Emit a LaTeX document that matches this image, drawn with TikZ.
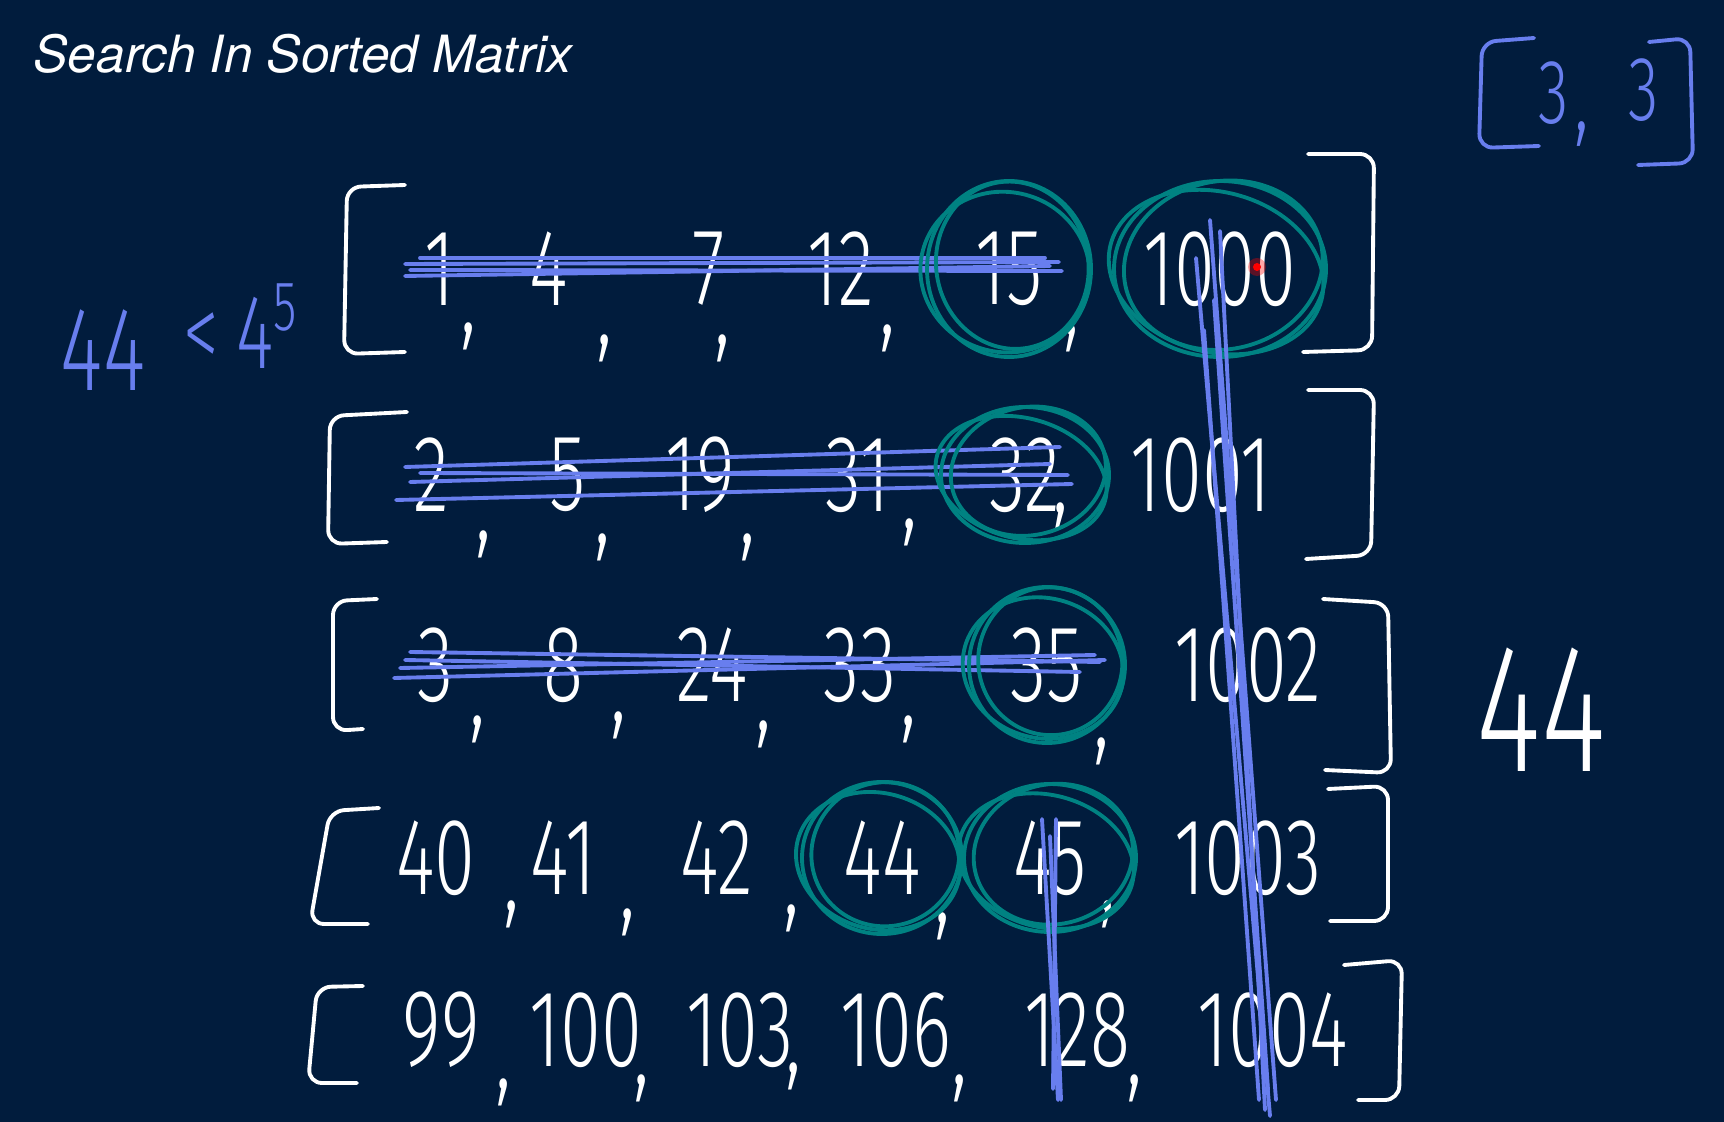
\documentclass[tikz,border=0pt]{standalone}
\usepackage{fontspec}
\usepackage{xcolor}
\usepackage{tikz}
\usetikzlibrary{calc}
\newfontfamily\handfont[FakeStretch=0.68]{Fira Sans Light}
\newfontfamily\titlefont{TeX Gyre Heros}
\definecolor{board}{RGB}{1,28,61}
\definecolor{ink}{RGB}{104,126,238}
\definecolor{loop}{RGB}{0,130,130}
\tikzset{
  num/.style={text=white, inner sep=0pt,
              font=\handfont\fontsize{31}{31}\selectfont},
  sep/.style={text=white, inner sep=0pt,
              font=\handfont\fontsize{33}{33}\selectfont},
  note/.style={text=ink, inner sep=0pt,
               font=\handfont\fontsize{33}{33}\selectfont},
  brk/.style={draw=white, line width=1.1pt, line cap=round,
              line join=round, rounded corners=4pt},
  strike/.style={draw=ink, line width=1.1pt, line cap=round},
  ring/.style={draw=loop, line width=1.1pt},
}
\begin{document}
\begin{tikzpicture}[x=0.01cm, y=-0.01cm]
  \useasboundingbox (0,0) rectangle (1724,1122);
  \fill[board] (0,0) rectangle (1724,1122);
  \node[anchor=base west, inner sep=0pt, text=white,
        font=\titlefont\itshape\fontsize{14.6}{17}\selectfont]
    (title) at (33,73) {Search In Sorted Matrix};
  % rows of the matrix
  \foreach \t/\x/\n in {1/440/a1, 4/549/a2, 7/709/a3, 12/841/a4, 15/1009/a5, 1000/1220/a6}
    \node[num] (\n) at (\x,269) {\t};
  \foreach \t/\x/\n in {2/431/b1, 5/568/b2, 19/700/b3, 31/858/b4, 32/1025/b5, 1001/1201/b6}
    \node[num] (\n) at (\x,475) {\t};
  \foreach \t/\x/\n in {3/436/c1, 8/563/c2, 24/712/c3, 33/860/c4, 35/1047/c5, 1002/1248/c6}
    \node[num] (\n) at (\x,665) {\t};
  \foreach \t/\x/\n in {40/436/d1, 41/563/d2, 42/717/d3, 44/882/d4, 45/1050/d5, 1003/1248/d6}
    \node[num] (\n) at (\x,858) {\t};
  \foreach \t/\x/\n in {99/441/e1, 100/586/e2, 103/740/e3, 106/896/e4, 128/1077/e5, 1004/1273/e6}
    \node[num] (\n) at (\x,1030) {\t};
  % commas
  \foreach \x/\y [count=\i] in {469/336, 605/348, 723/348, 888/338, 1072/338,
                                484/544, 603/547, 748/547, 910/532, 1061/516,
                                478/729, 619/725, 764/734, 909/729, 1102/751,
                                512/914, 628/922, 792/918, 943/926, 1108/914,
                                504/1092, 642/1088, 794/1076, 960/1088, 1135/1088}
    \node[sep] (k\i) at (\x,\y) {,};
  % brackets
  \draw[brk] (405,185) -- (347,187) -- (344,354) -- (405,352);
  \draw[brk] (1308,154) -- (1374,154) -- (1372,350) -- (1303,352);
  \draw[brk] (407,412) -- (330,416) -- (328,544) -- (387,542);
  \draw[brk] (1308,390) -- (1374,390) -- (1371,555) -- (1306,559);
  \draw[brk] (377,599) -- (333,601) -- (333,731) -- (363,729);
  \draw[brk] (1323,599) -- (1388,603) -- (1391,773) -- (1325,770);
  \draw[brk] (379,808) -- (330,811) -- (310,924) -- (368,924);
  \draw[brk] (1328,789) -- (1388,786) -- (1388,921) -- (1330,921);
  \draw[brk] (363,986) -- (317,987) -- (308,1083) -- (357,1083);
  \draw[brk] (1344,965) -- (1402,960) -- (1399,1100) -- (1358,1100);
  % struck out
  \draw[strike] (405,264) -- (1059,262);
  \draw[strike] (410,270) -- (1062,271);
  \draw[strike] (420,258) -- (1045,258);
  \draw[strike] (405,276) -- (1050,266);
  \draw[strike] (396,500) -- (1072,484);
  \draw[strike] (420,473) -- (1068,475);
  \draw[strike] (405,467) -- (1060,447);
  \draw[strike] (410,482) -- (1050,464);
  \draw[strike] (394,678) -- (1105,660);
  \draw[strike] (410,652) -- (1100,662);
  \draw[strike] (400,668) -- (1095,655);
  \draw[strike] (405,660) -- (1080,672);
  % rings
  \foreach \n/\a/\b in {a5/82/88, a6/106/88, b5/84/68, c5/78/78, d4/80/76, d5/86/74}{
    \draw[ring] (\n) ellipse [x radius=\a, y radius=\b];
    \draw[ring, rotate around={12:(\n)}] ($(\n)+(4,-3)$) ellipse [x radius=\a-6, y radius=\b-4];
    \draw[ring, rotate around={-15:(\n)}] ($(\n)+(-3,4)$) ellipse [x radius=\a+3, y radius=\b-8];
  }
  % red pointer
  \fill[red, opacity=0.35] (1257,267) circle (9);
  \fill[red] (1257,267) circle (4);
  % column scans
  \draw[strike] (1196,258) -- (1270,1116);
  \draw[strike] (1210,220) -- (1276,1100);
  \draw[strike] (1220,231) -- (1265,1110);
  \draw[strike] (1204,330) -- (1259,1100);
  \draw[strike] (1214,300) -- (1268,1090);
  \draw[strike] (1042,819) -- (1058,1100);
  \draw[strike] (1050,836) -- (1061,1100);
  \draw[strike] (1056,819) -- (1053,1089);
  % side notes
  \node[note, font=\handfont\fontsize{34}{34}\selectfont] (lhs) at (103,350) {44};
  \node[note, font=\handfont\fontsize{30}{30}\selectfont] (rhs) at (240,326)
    {<\hspace{5pt}4\raisebox{11pt}{\fontsize{20}{20}\selectfont 5}};
  \node[text=white, inner sep=0pt, font=\handfont\fontsize{52}{52}\selectfont]
    (goal) at (1541,710) {44};
  \node[note, font=\handfont\fontsize{26}{26}\selectfont] (p1) at (1554,93) {3};
  \node[note, font=\handfont\fontsize{30}{30}\selectfont] (p2) at (1582,134) {,};
  \node[note, font=\handfont\fontsize{26}{26}\selectfont] (p3) at (1644,90) {3};
  \draw[brk, draw=ink] (1534,38) -- (1482,42) -- (1479,148) -- (1539,146);
  \draw[brk, draw=ink] (1649,42) -- (1690,38) -- (1693,163) -- (1638,165);
\end{tikzpicture}
\end{document}
